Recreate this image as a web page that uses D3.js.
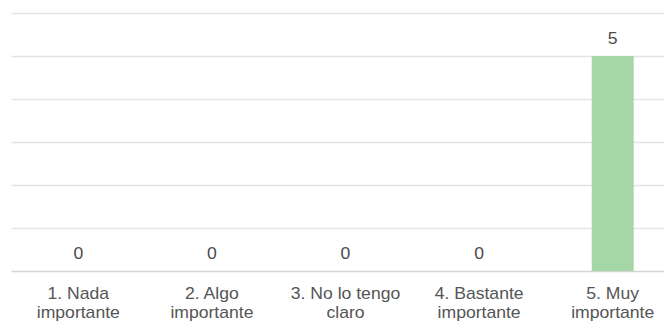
<!DOCTYPE html>
<html>
<head>
<meta charset="utf-8">
<script src="https://cdn.jsdelivr.net/npm/d3@7"></script>
<style>
  html, body { margin: 0; padding: 0; background: #fff; }
  svg { display: block; }
  text { font-family: "Liberation Sans", Arial, sans-serif; }
</style>
</head>
<body>
<script>
const categories = [
  ["1. Nada", "importante"],
  ["2. Algo", "importante"],
  ["3. No lo tengo", "claro"],
  ["4. Bastante", "importante"],
  ["5. Muy", "importante"]
];
const values = [0, 0, 0, 0, 5];
const yTicks = [0, 1, 2, 3, 4, 5, 6];

const W = 664, H = 322;
const svg = d3.select("body").append("svg").attr("width", W).attr("height", H);

const keys = categories.map((c, i) => i);
const x = d3.scaleBand().domain(keys).range([11.5, 679.5]).paddingInner(0.686).paddingOuter(0.343);
const y = d3.scaleLinear().domain([0, 6]).range([271, 13]);

const sx = 1.1;

// gridlines
svg.append("g").selectAll("line").data(yTicks).join("line")
  .attr("x1", 11.5).attr("x2", 679.5)
  .attr("y1", d => Math.round(y(d)) + 0.5).attr("y2", d => Math.round(y(d)) + 0.5)
  .attr("stroke", d => d === 0 ? "#d4d4d4" : "#e4e4e4")
  .attr("stroke-width", 1.3);

// bars
svg.append("g").selectAll("rect").data(values).join("rect")
  .attr("x", (d, i) => x(i))
  .attr("width", x.bandwidth())
  .attr("y", d => y(d))
  .attr("height", d => y(0) - y(d))
  .attr("fill", "#a5d6a7");

// value labels
svg.append("g").selectAll("text").data(values).join("text")
  .attr("transform", (d, i) => `translate(${x(i) + x.bandwidth() / 2},${y(d) - 12.5}) scale(${sx},1)`)
  .attr("text-anchor", "middle")
  .attr("font-size", 16)
  .attr("fill", "#4a4a4a")
  .text(d => d);

// category labels
const cat = svg.append("g").selectAll("text").data(categories).join("text")
  .attr("transform", (d, i) => `translate(${x(i) + x.bandwidth() / 2},299) scale(${sx},1)`)
  .attr("text-anchor", "middle")
  .attr("font-size", 16)
  .attr("fill", "#555");
cat.selectAll("tspan").data(d => d).join("tspan")
  .attr("x", 0)
  .attr("dy", (d, j) => j === 0 ? 0 : 19)
  .text(d => d);
</script>
</body>
</html>
